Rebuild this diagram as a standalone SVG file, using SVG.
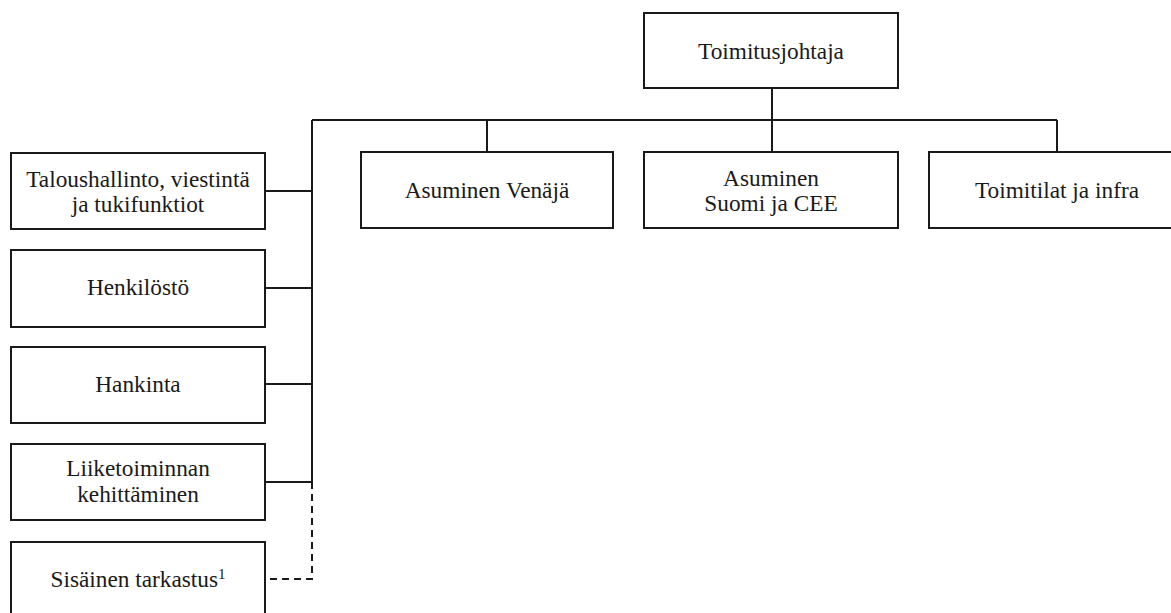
<svg xmlns="http://www.w3.org/2000/svg" width="1171" height="613" viewBox="0 0 1171 613">
<style>
.box{fill:#fff;stroke:#1a1a1a;stroke-width:2}
.t{font-family:"Liberation Serif","Times New Roman",serif;font-size:23.3px;fill:#1a1a1a;text-anchor:middle}
.c{fill:none;stroke:#1a1a1a;stroke-width:2}
.d{fill:none;stroke:#1a1a1a;stroke-width:2;stroke-dasharray:7 5}
</style>
<rect width="1171" height="613" fill="#fff"/>
<g id="connectors">
<path class="c" d="M772 88V120M312 120H1057M487 120V152M772 120V152M1057 120V152M312 120V482"/>
<path class="c" d="M265 191H312M265 288H312M265 384H312M265 482H312"/>
<path class="d" d="M312 482V579H265"/>
</g>
<g id="toimitusjohtaja"><rect class="box" x="644" y="13" width="254" height="75"/><text class="t" x="771" y="59">Toimitusjohtaja</text></g>
<g id="talous"><rect class="box" x="11" y="153" width="254" height="76"/><text class="t" x="138" y="187">Taloushallinto, viestintä</text><text class="t" x="138" y="212">ja tukifunktiot</text></g>
<g id="henkilosto"><rect class="box" x="11" y="250" width="254" height="77"/><text class="t" x="138" y="295">Henkilöstö</text></g>
<g id="hankinta"><rect class="box" x="11" y="347" width="254" height="76"/><text class="t" x="138" y="392">Hankinta</text></g>
<g id="liiketoiminta"><rect class="box" x="11" y="444" width="254" height="76"/><text class="t" x="138" y="476">Liiketoiminnan</text><text class="t" x="138" y="502">kehittäminen</text></g>
<g id="sisainen"><rect class="box" x="11" y="542" width="254" height="76"/><text class="t" x="138" y="587">Sisäinen tarkastus<tspan font-size="15" dy="-8">1</tspan></text></g>
<g id="venaja"><rect class="box" x="361" y="152" width="252" height="76"/><text class="t" x="487" y="198">Asuminen Venäjä</text></g>
<g id="suomi"><rect class="box" x="644" y="152" width="254" height="76"/><text class="t" x="771" y="186">Asuminen</text><text class="t" x="771" y="211">Suomi ja CEE</text></g>
<g id="toimitilat"><rect class="box" x="929" y="152" width="256" height="76"/><text class="t" x="1057" y="198">Toimitilat ja infra</text></g>
</svg>
